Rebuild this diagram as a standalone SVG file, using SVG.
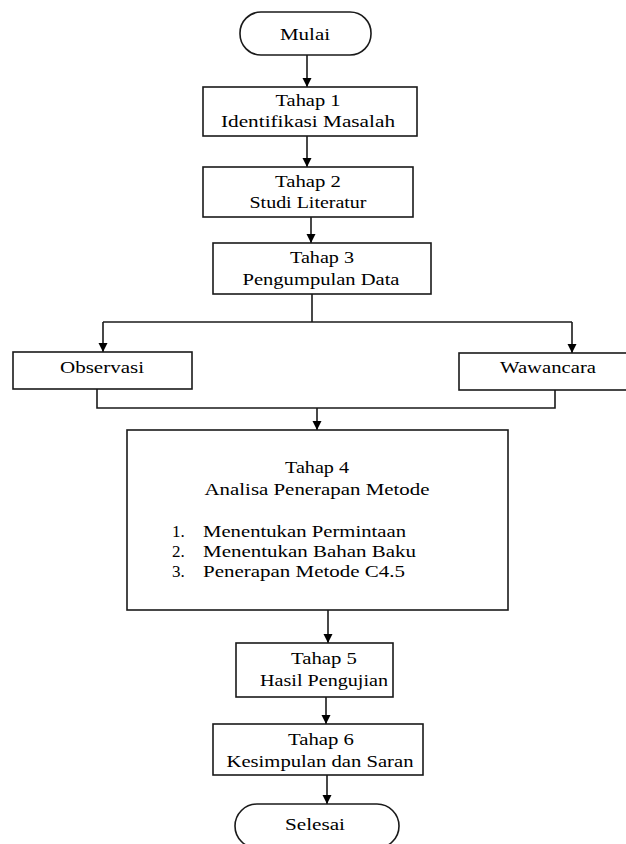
<svg xmlns="http://www.w3.org/2000/svg" width="626" height="844" viewBox="0 0 626 844">
<style>
.box{fill:#fff;stroke:#1a1a1a;stroke-width:1.6}
.t{font-family:"Liberation Serif","Times New Roman",serif;font-size:17px;fill:#000;text-anchor:middle}
.l{font-family:"Liberation Serif","Times New Roman",serif;font-size:17px;fill:#000}
.c{fill:none;stroke:#1a1a1a;stroke-width:1.6}
</style>
<defs>
<marker id="ah" markerUnits="userSpaceOnUse" markerWidth="10" markerHeight="10" refX="9" refY="5" orient="auto">
<path d="M0,0.5 L9,5 L0,9.5 z" fill="#000"/>
</marker>
</defs>
<rect width="626" height="844" fill="#fff"/>
<g id="connectors">
<path class="c" d="M307,55 V87" marker-end="url(#ah)"/>
<path class="c" d="M307,136 V167" marker-end="url(#ah)"/>
<path class="c" d="M311,217 V243" marker-end="url(#ah)"/>
<path class="c" d="M312,294 V322"/>
<path class="c" d="M103,322 H572"/>
<path class="c" d="M103,322 V352" marker-end="url(#ah)"/>
<path class="c" d="M572,322 V353" marker-end="url(#ah)"/>
<path class="c" d="M97,389 V408 H555 V390"/>
<path class="c" d="M317,408 V430" marker-end="url(#ah)"/>
<path class="c" d="M328,610 V643" marker-end="url(#ah)"/>
<path class="c" d="M326,697 V724" marker-end="url(#ah)"/>
<path class="c" d="M327,775 V804" marker-end="url(#ah)"/>
</g>
<g id="mulai">
<rect class="box" x="240" y="12" width="131" height="43" rx="21" ry="21"/>
<text class="t" x="305" y="40" textLength="50" lengthAdjust="spacingAndGlyphs">Mulai</text>
</g>
<g id="tahap1">
<rect class="box" x="203" y="87" width="214" height="49"/>
<text class="t" x="308" y="106" textLength="65" lengthAdjust="spacingAndGlyphs">Tahap 1</text>
<text class="t" x="308" y="127" textLength="174" lengthAdjust="spacingAndGlyphs">Identifikasi  Masalah</text>
</g>
<g id="tahap2">
<rect class="box" x="203" y="167" width="210" height="50"/>
<text class="t" x="308" y="187" textLength="66" lengthAdjust="spacingAndGlyphs">Tahap 2</text>
<text class="t" x="308" y="208" textLength="117" lengthAdjust="spacingAndGlyphs">Studi Literatur</text>
</g>
<g id="tahap3">
<rect class="box" x="213" y="243" width="218" height="51"/>
<text class="t" x="322" y="263" textLength="64" lengthAdjust="spacingAndGlyphs">Tahap 3</text>
<text class="t" x="321" y="285" textLength="157" lengthAdjust="spacingAndGlyphs">Pengumpulan Data</text>
</g>
<g id="observasi">
<rect class="box" x="13" y="352" width="179" height="37"/>
<text class="t" x="102" y="373" textLength="84" lengthAdjust="spacingAndGlyphs">Observasi</text>
</g>
<g id="wawancara">
<rect class="box" x="459" y="353" width="178" height="37"/>
<text class="t" x="548" y="373" textLength="96" lengthAdjust="spacingAndGlyphs">Wawancara</text>
</g>
<g id="tahap4">
<rect class="box" x="127" y="430" width="381" height="180"/>
<text class="t" x="317" y="473" textLength="64" lengthAdjust="spacingAndGlyphs">Tahap 4</text>
<text class="t" x="317" y="495" textLength="225" lengthAdjust="spacingAndGlyphs">Analisa Penerapan Metode</text>
<text class="l" x="172" y="537">1.</text>
<text class="l" x="203" y="537" textLength="203" lengthAdjust="spacingAndGlyphs">Menentukan Permintaan</text>
<text class="l" x="172" y="557">2.</text>
<text class="l" x="203" y="557" textLength="213" lengthAdjust="spacingAndGlyphs">Menentukan Bahan Baku</text>
<text class="l" x="172" y="577">3.</text>
<text class="l" x="203" y="577" textLength="202" lengthAdjust="spacingAndGlyphs">Penerapan Metode C4.5</text>
</g>
<g id="tahap5">
<rect class="box" x="236" y="643" width="157" height="54"/>
<text class="t" x="324" y="664" textLength="66" lengthAdjust="spacingAndGlyphs">Tahap 5</text>
<text class="t" x="324" y="686" textLength="128" lengthAdjust="spacingAndGlyphs">Hasil Pengujian</text>
</g>
<g id="tahap6">
<rect class="box" x="213" y="724" width="210" height="51"/>
<text class="t" x="321" y="745" textLength="66" lengthAdjust="spacingAndGlyphs">Tahap 6</text>
<text class="t" x="320" y="767" textLength="187" lengthAdjust="spacingAndGlyphs">Kesimpulan  dan Saran</text>
</g>
<g id="selesai">
<rect class="box" x="235" y="804" width="164" height="44" rx="22" ry="22"/>
<text class="t" x="315" y="830" textLength="60" lengthAdjust="spacingAndGlyphs">Selesai</text>
</g>
</svg>
